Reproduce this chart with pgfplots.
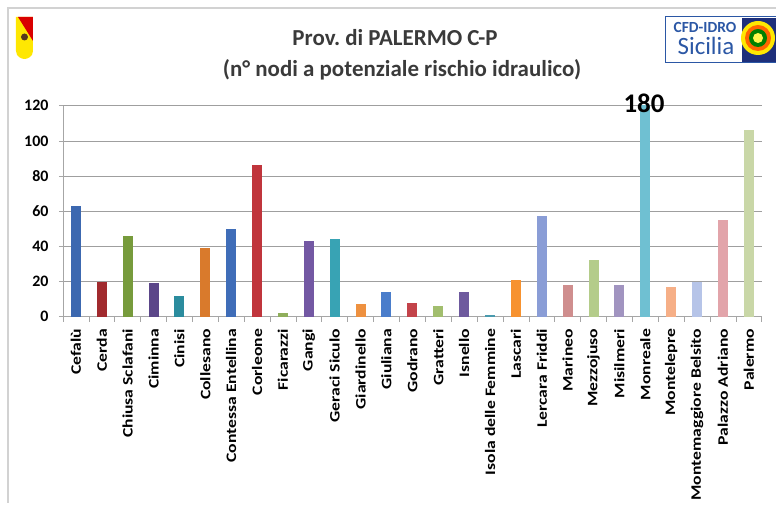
\documentclass[border=0pt]{standalone}
\usepackage{fontspec}
\setmainfont{Carlito}
\usepackage{pgfplots}
\pgfplotsset{compat=1.18}

% bar colours (Excel 2007 palette, in the order of the chart)
\definecolor{b01}{HTML}{3C68B0}
\definecolor{b02}{HTML}{A12A2E}
\definecolor{b03}{HTML}{779B3C}
\definecolor{b04}{HTML}{5B4689}
\definecolor{b05}{HTML}{2B8C9E}
\definecolor{b06}{HTML}{D97A2C}
\definecolor{b07}{HTML}{3F6DB8}
\definecolor{b08}{HTML}{C0353C}
\definecolor{b09}{HTML}{8FAE5B}
\definecolor{b10}{HTML}{7358A3}
\definecolor{b11}{HTML}{38A3B4}
\definecolor{b12}{HTML}{EE9140}
\definecolor{b13}{HTML}{4A7DCB}
\definecolor{b14}{HTML}{C3434A}
\definecolor{b15}{HTML}{A2BE6E}
\definecolor{b16}{HTML}{6E5A9E}
\definecolor{b17}{HTML}{4A9AAE}
\definecolor{b18}{HTML}{F7922F}
\definecolor{b19}{HTML}{8A9DD6}
\definecolor{b20}{HTML}{CF8E8E}
\definecolor{b21}{HTML}{B4CC8A}
\definecolor{b22}{HTML}{A194C0}
\definecolor{b23}{HTML}{6FC0D2}
\definecolor{b24}{HTML}{F6AF87}
\definecolor{b25}{HTML}{B6C4E8}
\definecolor{b26}{HTML}{E2A4AA}
\definecolor{b27}{HTML}{C9D7A7}
\definecolor{titlegray}{HTML}{3A3A3A}
\definecolor{cfdblue}{HTML}{2B57A5}
\definecolor{navy}{HTML}{1E2F7A}

\begin{document}
\frenchspacing
\begin{tikzpicture}
\begin{axis}[
    anchor=south west,
    scale only axis, width=698.7bp, height=211bp,
    xmin=-0.5, xmax=26.5, ymin=0, ymax=120,
    axis x line*=bottom, axis y line*=left,
    axis line style={gray!70, line width=0.8bp},
    ytick={0,20,...,120},
    xtick={0,...,26},
    xticklabels={Cefalù, Cerda, Chiusa Sclafani, Ciminna, Cinisi, Collesano,
        Contessa Entellina, Corleone, Ficarazzi, Gangi, Geraci Siculo,
        Giardinello, Giuliana, Godrano, Gratteri, Isnello,
        Isola delle Femmine, Lascari, Lercara Friddi, Marineo, Mezzojuso,
        Misilmeri, Monreale, Montelepre, Montemaggiore Belsito,
        Palazzo Adriano, Palermo},
    minor xtick={-0.5,0.5,...,26.5},
    major x tick style={draw=none},
    tick align=outside,
    major tick length=4bp, minor tick length=5bp,
    tick style={gray!70, line width=0.6bp},
    ymajorgrids, grid style={gray!75, line width=0.7bp},
    /pgf/number format/assume math mode=true,
    yticklabel style={font=\bfseries\fontsize{16}{16}\selectfont, black,
        xshift=-7bp},
    xticklabel shift=4bp,
    xticklabel style={rotate=90, anchor=east, xscale=1.22,
        font=\bfseries\fontsize{14.5}{14.5}\selectfont, black},
    ybar, bar width=10bp, bar shift=0pt,
    clip mode=individual,
]
\addplot[fill=b01, draw=none] coordinates {(0,63)};
\addplot[fill=b02, draw=none] coordinates {(1,20)};
\addplot[fill=b03, draw=none] coordinates {(2,46)};
\addplot[fill=b04, draw=none] coordinates {(3,19)};
\addplot[fill=b05, draw=none] coordinates {(4,12)};
\addplot[fill=b06, draw=none] coordinates {(5,39)};
\addplot[fill=b07, draw=none] coordinates {(6,50)};
\addplot[fill=b08, draw=none] coordinates {(7,86)};
\addplot[fill=b09, draw=none] coordinates {(8,2)};
\addplot[fill=b10, draw=none] coordinates {(9,43)};
\addplot[fill=b11, draw=none] coordinates {(10,44)};
\addplot[fill=b12, draw=none] coordinates {(11,7)};
\addplot[fill=b13, draw=none] coordinates {(12,14)};
\addplot[fill=b14, draw=none] coordinates {(13,8)};
\addplot[fill=b15, draw=none] coordinates {(14,6)};
\addplot[fill=b16, draw=none] coordinates {(15,14)};
\addplot[fill=b17, draw=none] coordinates {(16,1)};
\addplot[fill=b18, draw=none] coordinates {(17,21)};
\addplot[fill=b19, draw=none] coordinates {(18,57)};
\addplot[fill=b20, draw=none] coordinates {(19,18)};
\addplot[fill=b21, draw=none] coordinates {(20,32)};
\addplot[fill=b22, draw=none] coordinates {(21,18)};
\addplot[fill=b23, draw=none] coordinates {(22,180)};
\addplot[fill=b24, draw=none] coordinates {(23,17)};
\addplot[fill=b25, draw=none] coordinates {(24,20)};
\addplot[fill=b26, draw=none] coordinates {(25,55)};
\addplot[fill=b27, draw=none] coordinates {(26,106)};
\node[font=\bfseries\fontsize{27}{27}\selectfont, inner sep=0pt]
    at (axis cs:21.95,121.5) {180};
\end{axis}

% page frame, logos and title, in pixel units of the reference
\begin{scope}[x=1bp, y=1bp, shift={(-63,-186.3)}]
\path[use as bounding box] (0,0) rectangle (776,503);
\draw[gray!35, line width=1.5bp] (8,0) -- (8,495) -- (776,495);

% left logo (shield)
\fill[yellow!90!orange] (16,486) -- (33,486) -- (33,452) .. controls (33,446) and (27,444) .. (24.5,444) .. controls (22,444) and (16,446) .. (16,452) -- cycle;
\fill[red!85!black] (18,486) -- (33,486) -- (33,462) -- cycle;
\fill[black!55!brown] (24.5,466) circle (3.5);

% right logo
\draw[cfdblue, line width=1bp, fill=white] (665,440) rectangle (776,486);
\fill[navy] (742,441) rectangle (776,485);
\fill[yellow!90!orange] (758,465) circle (17);
\fill[orange!80!red] (758,465) circle (13);
\fill[green!50!black] (758,465) circle (9);
\fill[yellow!70!white] (758,465) circle (5);
\node[text=cfdblue, font=\bfseries\fontsize{15.5}{15.5}\selectfont] at (705,476) {CFD-IDRO};
\node[text=cfdblue, font=\fontsize{25}{25}\selectfont] at (706,457) {Sicilia};

% title
\node[text=titlegray, font=\bfseries\fontsize{23}{23}\selectfont] at (395,465) {Prov. di PALERMO C-P};
\node[text=titlegray, font=\bfseries\fontsize{23}{23}\selectfont] at (402,433) {(n° nodi a potenziale rischio idraulico)};
\end{scope}
\end{tikzpicture}
\end{document}
